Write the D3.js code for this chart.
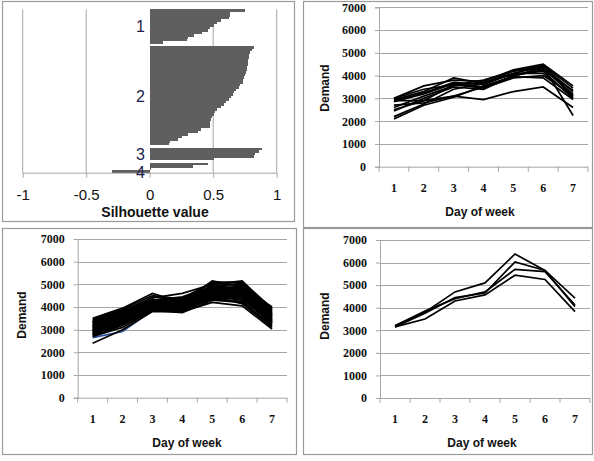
<!DOCTYPE html>
<html>
<head>
<meta charset="utf-8">
<script src="https://cdn.jsdelivr.net/npm/d3@7"></script>
<style>
    body { margin: 0; background: #fff; }
    svg { display: block; }
</style>
</head>
<body>
<svg id="chart" width="594" height="461"></svg>
<script>

// Silhouette values per cluster (sorted descending)
const cluster1 = [0.75, 0.63, 0.63, 0.62, 0.56, 0.53, 0.50, 0.47, 0.46, 0.41, 0.35, 0.30, 0.29, 0.10];
const cluster2 = [0.815, 0.80, 0.79, 0.78, 0.78, 0.775, 0.77, 0.77, 0.765, 0.76,
    0.755, 0.75, 0.74, 0.735, 0.73, 0.71, 0.70, 0.68, 0.665, 0.65,
    0.635, 0.62, 0.60, 0.58, 0.56, 0.53, 0.51, 0.50, 0.49, 0.48,
    0.475, 0.47, 0.47, 0.40, 0.38, 0.30, 0.25, 0.22, 0.16, 0.15];
const cluster3 = [0.88, 0.86, 0.83, 0.82, 0.50];
const cluster4 = [0.46, 0.34, 0.01, -0.30];
const clusters = [cluster1, cluster2, cluster3, cluster4];
const silTicks = [-1, -0.5, 0, 0.5, 1];

// Line charts
const days = [1, 2, 3, 4, 5, 6, 7];
const demandTicks = [0, 1000, 2000, 3000, 4000, 5000, 6000, 7000];

const groupA = [
    [3000, 3550, 3800, 3750, 4250, 4500, 3550],
    [2950, 3300, 3900, 3650, 4200, 4450, 3450],
    [2900, 3250, 3700, 3600, 4100, 4400, 3300],
    [2850, 3200, 3650, 3500, 4000, 4300, 3200],
    [3000, 3400, 3600, 3800, 4200, 4350, 3100],
    [2600, 3100, 3550, 3700, 4050, 4200, 3000],
    [2500, 2900, 3600, 3450, 3900, 4000, 3150],
    [2700, 2800, 3100, 3500, 3950, 3900, 2950],
    [2200, 2750, 3400, 3650, 4100, 4100, 3050],
    [2100, 2700, 3050, 3550, 3950, 4400, 2250],
    [2900, 2900, 3100, 2950, 3300, 3500, 2600],
    [2450, 3000, 3500, 3400, 4000, 4250, 3350]
];

const groupB = [
    [3500, 3950, 4600, 4200, 5150, 4900, 4000],
    [3450, 3900, 4500, 4350, 5100, 5100, 3950],
    [3400, 3850, 4400, 4600, 5000, 5150, 3900],
    [3350, 3800, 4300, 4400, 5050, 4950, 3850],
    [3300, 3750, 4250, 4300, 4950, 5000, 3800],
    [3250, 3700, 4200, 4250, 4900, 4850, 3750],
    [3200, 3650, 4150, 4200, 4850, 4900, 3700],
    [3150, 3600, 4100, 4150, 4800, 4800, 3650],
    [3100, 3550, 4100, 4100, 4750, 4750, 3600],
    [3050, 3500, 4050, 4050, 4700, 4700, 3550],
    [3000, 3450, 4000, 4000, 4650, 4650, 3500],
    [2950, 3400, 4000, 3950, 4600, 4600, 3450],
    [2900, 3350, 3950, 3900, 4550, 4550, 3400],
    [2850, 3300, 3900, 3850, 4500, 4500, 3350],
    [2800, 3250, 3900, 3800, 4450, 4450, 3300],
    [2750, 3200, 3850, 3800, 4400, 4350, 3250],
    [2700, 3100, 3850, 3750, 4300, 4200, 3200],
    [2400, 3000, 3800, 3800, 4200, 4050, 3030],
    [3100, 3700, 4300, 4450, 4900, 5050, 3850],
    [3300, 3800, 4050, 4000, 4500, 4300, 3400],
    [3000, 3600, 4250, 4100, 5000, 4700, 3600],
    [2950, 3450, 4150, 3900, 4350, 4250, 3150],
    [3200, 3550, 3950, 3850, 4600, 4400, 3500],
    [2850, 3400, 4200, 4150, 4950, 4650, 3750],
    [3350, 3750, 4350, 4050, 4800, 4550, 3300],
    [2800, 3300, 4050, 3950, 4450, 4150, 3100],
    [3050, 3650, 4450, 4300, 5100, 4950, 3700],
    [2950, 3500, 3900, 4000, 4300, 4450, 3450],
    [3150, 3700, 4100, 4200, 4750, 4850, 3600],
    [2700, 3200, 4000, 4050, 4650, 4600, 3400]
];
const groupBBlue = [2650, 2920, 3850, 4000, 4750, 4750, 3350];

const groupC = [
    [3200, 3800, 4700, 5100, 6380, 5650, 4420],
    [3150, 3750, 4450, 4650, 6030, 5650, 4050],
    [3200, 3850, 4400, 4700, 5700, 5600, 4120],
    [3150, 3500, 4300, 4570, 5440, 5250, 3830]
];

const svg = d3.select('#chart');
const gridColor = '#a6a6a6';
const borderColor = '#9a9a9a';

// Panel borders
[[2.5, 1.5, 292, 220], [303.5, 1.5, 289, 226], [2.5, 228.5, 294, 226], [303.5, 228.5, 289, 226]]
    .forEach(b => {
        svg.append('rect')
            .attr('x', b[0]).attr('y', b[1])
            .attr('width', b[2]).attr('height', b[3])
            .attr('fill', 'none')
            .attr('stroke', borderColor)
            .attr('stroke-width', 1.2);
    });

// ---- Silhouette plot ----
function drawSilhouette() {

    const g = svg.append('g');
    const x = d3.scaleLinear().domain([-1, 1]).range([22.7, 276.7]);

    // Slots: bars with one empty slot between clusters
    const slots = [];
    clusters.forEach((c, ci) => {
        if (ci > 0) slots.push({ key: 'gap' + ci, v: null, c: ci });
        c.forEach((v, i) => slots.push({ key: ci + '_' + i, v: v, c: ci }));
    });

    const y = d3.scaleBand()
        .domain(slots.map(d => d.key))
        .range([9.3, 172.7])
        .padding(0);

    // Grid
    g.selectAll('.grid').data(silTicks.filter(t => t !== 0)).join('line')
        .attr('x1', d => x(d)).attr('x2', d => x(d))
        .attr('y1', 9.3).attr('y2', 172.7)
        .attr('stroke', gridColor).attr('stroke-width', 1);

    // Bars (rounded to whole pixels so neighbours touch without seams)
    g.selectAll('.bar').data(slots.filter(d => d.v !== null)).join('rect')
        .attr('x', d => Math.round(x(Math.min(0, d.v))))
        .attr('y', d => Math.round(y(d.key)))
        .attr('width', d => Math.round(Math.abs(x(d.v) - x(0))))
        .attr('height', d => Math.round(y(d.key) + y.bandwidth()) - Math.round(y(d.key)))
        .attr('shape-rendering', 'crispEdges')
        .attr('fill', '#5f5f5f');

    // Axis
    const axis = g.append('g')
        .attr('transform', 'translate(0,172.7)')
        .call(d3.axisBottom(x).tickValues(silTicks).tickSize(5).tickFormat(d => String(d)));
    axis.select('.domain').attr('stroke', gridColor).attr('d', 'M22.7,0.5H276.7');
    axis.selectAll('.tick line').attr('stroke', gridColor);
    axis.selectAll('.tick text')
        .attr('y', 17)
        .attr('fill', '#111')
        .style('font-family', 'Liberation Sans, Arial, sans-serif')
        .style('font-size', '15px');

    // Cluster labels
    clusters.forEach((c, ci) => {
        const first = y(ci + '_0');
        const last = y(ci + '_' + (c.length - 1)) + y.bandwidth();
        g.append('text')
            .attr('x', 145)
            .attr('y', (first + last) / 2 + (ci === 3 ? 4 : 0))
            .attr('dy', '0.36em')
            .attr('text-anchor', 'end')
            .attr('fill', '#1c1c4c')
            .style('font-family', 'Liberation Sans, Arial, sans-serif')
            .style('font-size', '16px')
            .text(ci + 1);
    });

    // Title
    g.append('text')
        .attr('x', 155).attr('y', 217)
        .attr('text-anchor', 'middle')
        .attr('fill', '#111')
        .style('font-family', 'Liberation Sans, Arial, sans-serif')
        .style('font-size', '14px')
        .style('font-weight', 'bold')
        .text('Silhouette value');
}

// ---- Demand line chart ----
function drawDemand(cfg, series, extra) {

    const g = svg.append('g');
    const x = d3.scaleBand().domain(days).range([cfg.left, cfg.right]);
    const y = d3.scaleLinear().domain([0, 7000]).range([cfg.bottom, cfg.top]);

    // Grid
    g.selectAll('.grid').data(demandTicks.filter(t => t > 0)).join('line')
        .attr('x1', cfg.left).attr('x2', cfg.right)
        .attr('y1', d => Math.round(y(d)) + 0.5).attr('y2', d => Math.round(y(d)) + 0.5)
        .attr('stroke', gridColor).attr('stroke-width', 1);

    // Y axis
    const ya = g.append('g')
        .attr('transform', `translate(${cfg.left},0)`)
        .call(d3.axisLeft(y).tickValues(demandTicks).tickSize(4).tickPadding(9).tickFormat(d3.format('d')));
    ya.select('.domain').attr('stroke', gridColor);
    ya.selectAll('.tick line').attr('stroke', gridColor);
    ya.selectAll('.tick text')
        .attr('fill', '#111')
        .style('font-family', 'Liberation Serif, Times New Roman, serif')
        .style('font-size', '12px')
        .style('font-weight', 'bold');

    // X axis: tick marks at band edges
    const xa = g.append('g').attr('transform', `translate(0,${cfg.bottom})`);
    xa.append('line')
        .attr('x1', cfg.left).attr('x2', cfg.right)
        .attr('y1', 0.5).attr('y2', 0.5)
        .attr('stroke', gridColor);
    xa.selectAll('.edge').data(days.concat([8])).join('line')
        .attr('x1', d => d === 8 ? cfg.right : x(d))
        .attr('x2', d => d === 8 ? cfg.right : x(d))
        .attr('y1', 0).attr('y2', 5)
        .attr('stroke', gridColor);
    xa.selectAll('.lab').data(days).join('text')
        .attr('x', d => x(d) + x.bandwidth() / 2)
        .attr('y', 25)
        .attr('text-anchor', 'middle')
        .attr('fill', '#111')
        .style('font-family', 'Liberation Serif, Times New Roman, serif')
        .style('font-size', '12px')
        .style('font-weight', 'bold')
        .text(d => d);

    // Lines
    const line = d3.line()
        .x((d, i) => x(days[i]) + x.bandwidth() / 2)
        .y(d => y(d));

    const all = series.map(s => ({ v: s, color: '#000' }));
    if (extra) all.splice(extra.at, 0, { v: extra.v, color: extra.color });

    g.selectAll('.series').data(all).join('path')
        .attr('d', d => line(d.v))
        .attr('fill', 'none')
        .attr('stroke', d => d.color)
        .attr('stroke-width', 1.7)
        .attr('stroke-linejoin', 'miter');

    // Titles
    g.append('text')
        .attr('x', cfg.titleX).attr('y', cfg.bottom + 49)
        .attr('text-anchor', 'middle')
        .attr('fill', '#111')
        .style('font-family', 'Liberation Sans, Arial, sans-serif')
        .style('font-size', '12px')
        .style('font-weight', 'bold')
        .text('Day of week');

    g.append('text')
        .attr('transform', `translate(${cfg.ylabX},${cfg.ylabY}) rotate(-90)`)
        .attr('text-anchor', 'middle')
        .attr('fill', '#111')
        .style('font-family', 'Liberation Sans, Arial, sans-serif')
        .style('font-size', '12px')
        .style('font-weight', 'bold')
        .text('Demand');
}

drawSilhouette();

drawDemand({ left: 379, right: 588, top: 7.3, bottom: 166.7, titleX: 480, ylabX: 329, ylabY: 88 }, groupA);

drawDemand({ left: 77.7, right: 287, top: 239, bottom: 397.7, titleX: 187, ylabX: 26, ylabY: 315 }, groupB,
    { v: groupBBlue, color: '#2a4a9a', at: 0 });

drawDemand({ left: 380, right: 590, top: 240, bottom: 398, titleX: 482, ylabX: 329, ylabY: 316 }, groupC);

</script>
</body>
</html>
